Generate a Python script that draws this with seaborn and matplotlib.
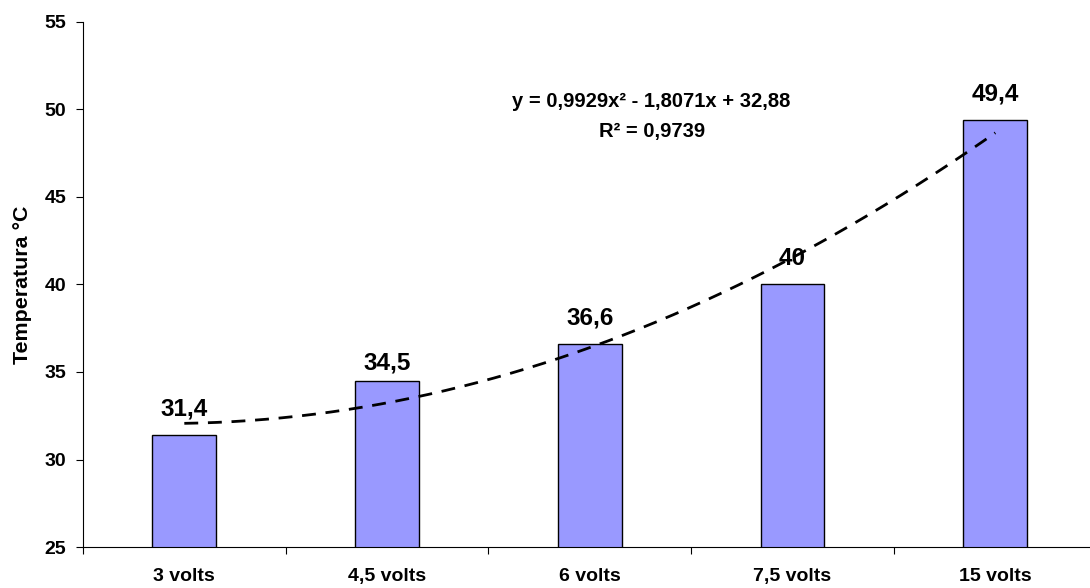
import numpy as np
import matplotlib
matplotlib.use("Agg")
import matplotlib.pyplot as plt
import seaborn as sns

categories = ["3 volts", "4,5 volts", "6 volts", "7,5 volts", "15 volts"]
temps = [31.4, 34.5, 36.6, 40.0, 49.4]
value_labels = ["31,4", "34,5", "36,6", "40", "49,4"]
equation = "y = 0,9929x² - 1,8071x + 32,88"
r2_text = "R² = 0,9739"

sns.set_style("white")
plt.rcParams["font.family"] = ["Liberation Sans", "DejaVu Sans"]
plt.rcParams["font.weight"] = "bold"
plt.rcParams["text.color"] = "black"
plt.rcParams["axes.labelcolor"] = "black"
plt.rcParams["xtick.color"] = "black"
plt.rcParams["ytick.color"] = "black"

fig = plt.figure(figsize=(10.9, 5.88), dpi=100)
ax = fig.add_axes([0.0761, 0.0697, 0.93, 0.893])

sns.barplot(x=categories, y=temps, color="#9999FF", saturation=1, width=0.315,
            edgecolor="black", linewidth=1, ax=ax)

# polynomial trendline (order 2), x = 1..5 as in the spreadsheet
coef = np.polyfit(np.arange(1, 6), temps, 2)
xs = np.linspace(1, 5, 200)
ax.plot(xs - 1, np.polyval(coef, xs), color="black", lw=2, dashes=(5, 3.5))

# value labels above bars (offsets in px)
label_offset = [26, 18, 26, 26, 26]
for i, (v, lab) in enumerate(zip(temps, value_labels)):
    ax.annotate(lab, (i, v), xytext=(0, label_offset[i] * 0.72), textcoords="offset points",
                ha="center", va="center", fontsize=17.5, fontweight="bold", color="black")

ax.text(0.561, 0.848, equation, transform=ax.transAxes, ha="center", va="center",
        fontsize=14.5, fontweight="bold", color="black")
ax.text(0.561, 0.792, r2_text, transform=ax.transAxes, ha="center", va="center",
        fontsize=14.5, fontweight="bold", color="black")

ax.set_ylim(25, 55)
ax.set_xlim(-0.5, 4.5)
ax.set_yticks(np.arange(25, 56, 5))
ax.set_xticks(range(5))
ax.set_xticklabels(categories)
ax.set_xticks(np.arange(-0.5, 4.6, 1), minor=True)

ax.tick_params(axis="y", which="major", direction="out", length=5, width=0.8,
               pad=7, labelsize=14, left=True, colors="black")
ax.tick_params(axis="x", which="major", length=0, pad=15, labelsize=14, colors="black")
ax.tick_params(axis="x", which="minor", direction="out", length=5, width=0.8, bottom=True,
               colors="black")
for t in ax.get_xticklabels() + ax.get_yticklabels():
    t.set_fontweight("bold")

ax.set_ylabel("Temperatura °C", fontsize=15.4, fontweight="bold", labelpad=9, color="black")
ax.set_xlabel("")

sns.despine(ax=ax)
for s in ["left", "bottom"]:
    ax.spines[s].set_color("black")
    ax.spines[s].set_linewidth(0.8)

fig.savefig("out.png", dpi=100)
